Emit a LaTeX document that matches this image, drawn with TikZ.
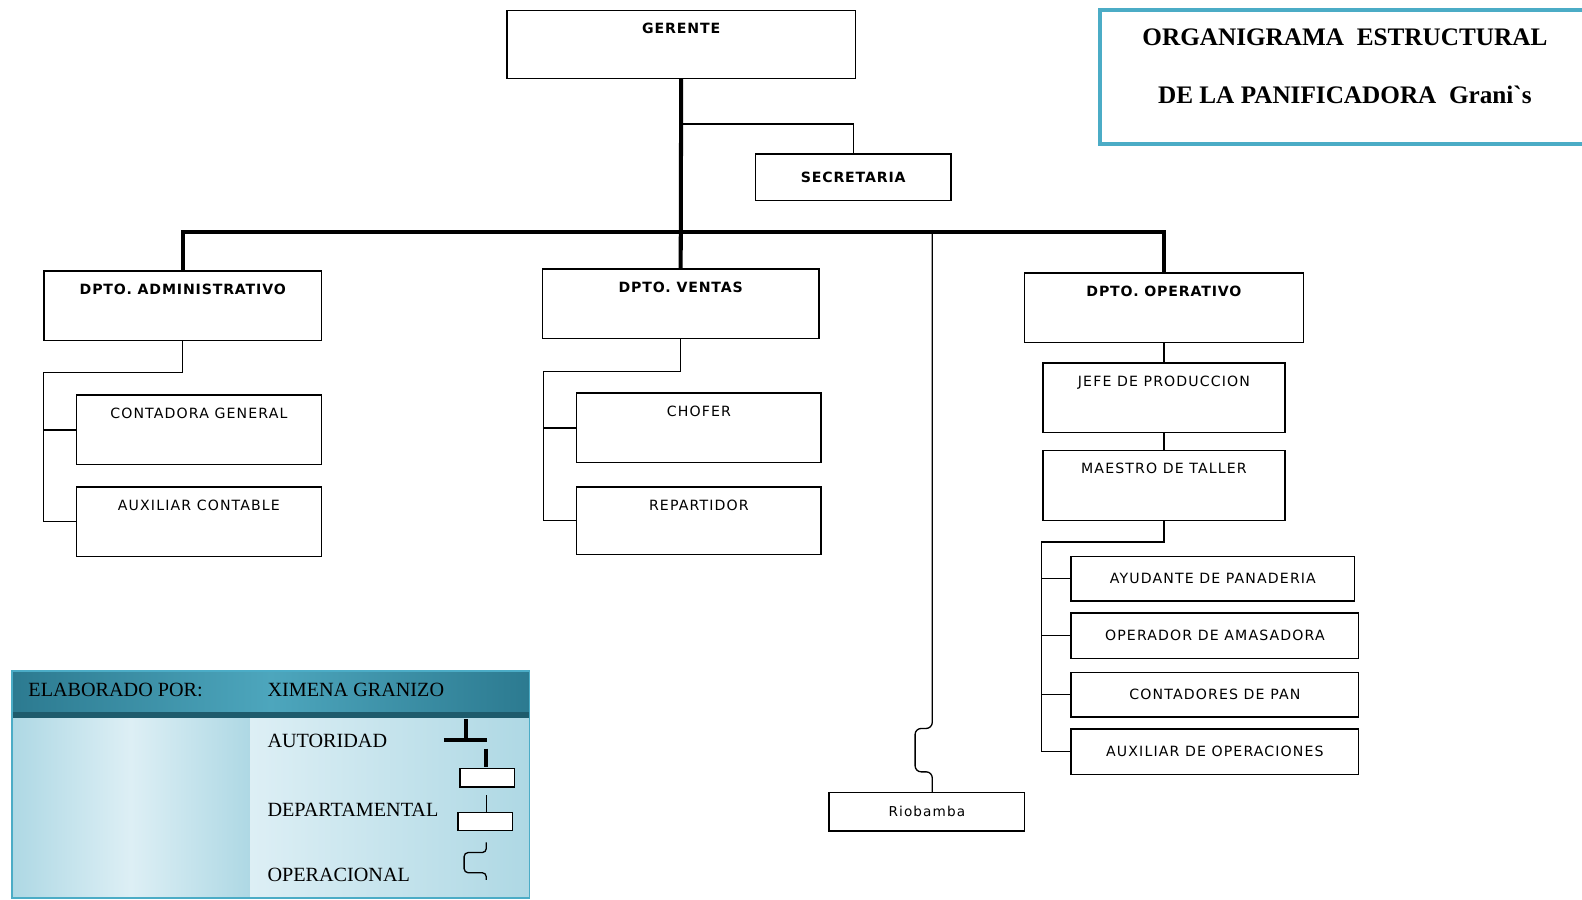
\documentclass[tikz,border=0pt]{standalone}
\usepackage{fontspec}
\setmainfont{Liberation Serif}
\newfontfamily\boxfont[LetterSpace=8]{DejaVu Sans}
\newfontfamily\boldfont[LetterSpace=6]{DejaVu Sans Bold}
\usetikzlibrary{calc}

\definecolor{frame}{HTML}{4BACC6}
\definecolor{headdark}{HTML}{2C7A90}
\definecolor{headmid}{HTML}{4DA6BD}
\definecolor{headline}{HTML}{1E5B6C}
\definecolor{palelight}{HTML}{DDEFF5}
\definecolor{palemid}{HTML}{AED8E4}

\begin{document}
\begin{tikzpicture}[
			x=1pt, y=-1pt,
			box/.style = {draw, line width=1.3pt, inner sep=0pt, anchor=north west,
				font=\boxfont\fontsize{14}{16}\selectfont},
			bold/.style = {font=\boldfont\fontsize{14}{16}\selectfont},
			tall/.style = {box, text height=23pt, text depth=46pt},
			trunk/.style = {line width=4pt},
			link/.style = {line width=1.3pt},
			legtext/.style = {anchor=base west, inner sep=0pt, font=\fontsize{20}{22}\selectfont},
			]
			\useasboundingbox (0,0) rectangle (1568,892);

			% title
			\draw[frame, line width=4pt] (1090,10) rectangle (1590,143);
			\node[inner sep=0pt, align=center, font=\bfseries\fontsize{25}{57}\selectfont] (ttl) at (1333,65.5)
				{ORGANIGRAMA~~ESTRUCTURAL\\DE LA PANIFICADORA~~Grani\textasciigrave s};

			% boxes
			\node[tall, bold, minimum width=345pt, text depth=44pt] (ger) at (502,10) {GERENTE};
			\node[box, bold, minimum width=194pt, minimum height=46pt] (sec) at (748,152) {SECRETARIA};
			\node[tall, bold, minimum width=275pt] (adm) at (43,268) {DPTO. ADMINISTRATIVO};
			\node[tall, bold, minimum width=274pt] (ven) at (537,266) {DPTO. VENTAS};
			\node[tall, bold, minimum width=276pt] (ope) at (1015,270) {DPTO. OPERATIVO};
			\node[tall, minimum width=243pt] (cont) at (75,391) {CONTADORA GENERAL};
			\node[tall, minimum width=243pt] (auxc) at (75,482) {AUXILIAR CONTABLE};
			\node[tall, minimum width=242pt] (chof) at (571,389) {CHOFER};
			\node[tall, minimum width=242pt, text depth=44pt] (rep) at (571,482) {REPARTIDOR};
			\node[tall, minimum width=240pt] (jefe) at (1033,359) {JEFE DE PRODUCCION};
			\node[tall, minimum width=240pt] (maes) at (1033,446) {MAESTRO DE TALLER};
			\node[box, minimum width=281pt, minimum height=44pt] (ayu) at (1061,551) {AYUDANTE DE PANADERIA};
			\node[box, minimum width=285pt, minimum height=45pt] (opam) at (1061,607) {OPERADOR DE AMASADORA};
			\node[box, minimum width=285pt, minimum height=44pt] (cpan) at (1061,666) {CONTADORES DE PAN};
			\node[box, minimum width=285pt, minimum height=45pt] (auxo) at (1061,722) {AUXILIAR DE OPERACIONES};
			\node[box, minimum width=194pt, minimum height=38pt, font=\boxfont\fontsize{13.5}{15}\selectfont] (rio) at (821,785) {Riobamba};

			% connectors
			\coordinate (bar) at (674,230);
			\coordinate (sj) at (674,123);
			\coordinate (rj) at (924,230);
			\draw[link] (sj) -| (sec.north);
			\draw[trunk] (ger.south) -- (ven.north);
			\draw[trunk] (adm.north) -- (adm.north |- bar) -- (ope.north |- bar) -- (ope.north);
			\draw[link, rounded corners=6pt] (rj) -- ++(0,492) -- ++(-17,0) -- ++(0,43) -- ++(17,0) -- (rj |- rio.north);

			\draw[link] (adm.south) -- ++(0,31) -| ([xshift=-32pt]auxc.west) -- (auxc.west);
			\draw[link] (cont.west) -- ++(-32,0);
			\draw[link] (ven.south) -- ++(0,32) -| ([xshift=-32pt]rep.west) -- (rep.west);
			\draw[link] (chof.west) -- ++(-32,0);

			\draw[link] (ope.south) -- (jefe.north);
			\draw[link] (jefe.south) -- (maes.north);
			\draw[link] (maes.south) -- ++(0,21) -| ([xshift=-29pt]auxo.west) -- (auxo.west);
			\foreach \n in {ayu,opam,cpan}
				\draw[link] (\n.west) -- ++(-29,0);

			% legend
			\shade[left color=palemid, right color=palemid, middle color=palelight] (12,712) rectangle (248,890);
			\shade[left color=palelight, right color=palemid] (248,712) rectangle (525,890);
			\shade[left color=headdark, right color=headdark, middle color=headmid] (12,665) rectangle (525,706);
			\fill[headline] (12,706) rectangle (525,712);
			\draw[frame, line width=1.5pt] (12,665) rectangle (525,890);

			\node[legtext] (elab) at (28,690) {ELABORADO POR:};
			\node[legtext] (autor) at (265,690) {XIMENA GRANIZO};
			\node[legtext] (aut) at (265,741) {AUTORIDAD};
			\node[legtext] (dep) at (265,809) {DEPARTAMENTAL};
			\node[legtext] (opc) at (265,874) {OPERACIONAL};

			\draw[trunk] (440,733) -- (483,733);
			\draw[trunk] (462,713) -- (462,733);
			\draw[trunk] (482,742) -- (482,760);
			\draw[link, fill=white] (456,762) rectangle (510,780);
			\draw[link] (482,788) -- (482,805);
			\draw[link, fill=white] (454,805) rectangle (508,823);
			\draw[link, rounded corners=4pt] (482,835) -- (482,845) -- (460,845) -- (460,865) -- (482,865) -- (482,872);
		\end{tikzpicture}
\end{document}
